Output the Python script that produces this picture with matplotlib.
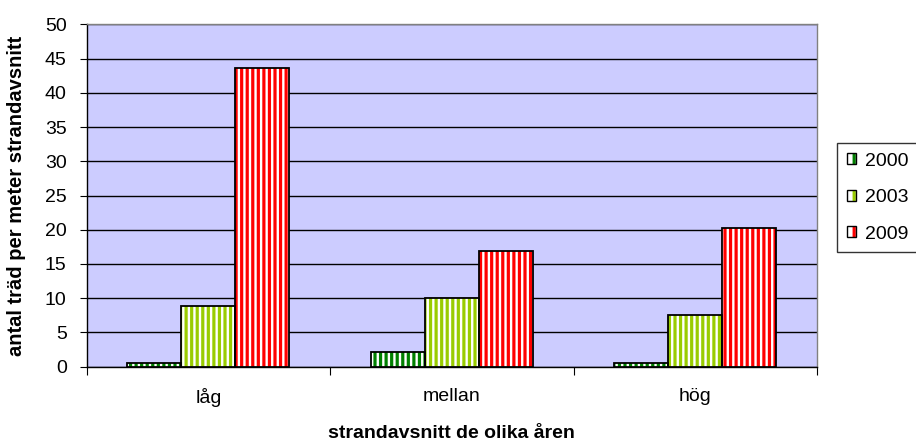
import matplotlib
matplotlib.use("Agg")
import matplotlib.pyplot as plt
from matplotlib.patches import Patch
import numpy as np

categories = ["låg", "mellan", "hög"]
years = ["2000", "2003", "2009"]
values_2000 = [0.5, 2.1, 0.5]
values_2003 = [8.9, 10.0, 7.6]
values_2009 = [43.6, 16.9, 20.3]
series = [values_2000, values_2003, values_2009]
colors = ["#008000", "#99CC00", "#FF0000"]

plt.rcParams['font.family'] = ['Liberation Sans', 'DejaVu Sans']
plt.rcParams['hatch.linewidth'] = 2.3

fig = plt.figure(figsize=(9.16, 4.47), dpi=100)
ax = fig.add_axes([86.7/916, 1-366.7/447, (817-86.7)/916, (366.7-24.3)/447])
ax.set_facecolor("#CCCCFF")

x = np.arange(len(categories))
w = 0.222
handles = []
for i, (vals, c) in enumerate(zip(series, colors)):
    pos = x + (i - 1) * w
    ax.bar(pos, vals, w, facecolor="white", edgecolor=c, hatch="|||", linewidth=0, zorder=3)
    ax.bar(pos, vals, w, fill=False, edgecolor="black", linewidth=1.3, zorder=4)
    handles.append((Patch(facecolor="white", edgecolor=c, hatch="||", linewidth=0),
                    Patch(fill=False, edgecolor="black", linewidth=1.0)))

ax.set_xlim(-0.5, 2.5)
ax.set_ylim(0, 50)
ax.set_yticks(np.arange(0, 51, 5))
ax.yaxis.grid(True, color="black", linewidth=1.0, zorder=1)
ax.set_axisbelow(True)

ax.set_xticks([-0.5, 0.5, 1.5, 2.5])
ax.set_xticklabels([])
ax.set_xticks(x, minor=True)
ax.set_xticklabels(categories, minor=True)
ax.tick_params(axis="x", which="minor", length=0, pad=15, labelsize=14)
ax.tick_params(axis="x", which="major", length=5.4, color="black")
ax.tick_params(axis="y", length=5.4, labelsize=14, pad=9, color="black")

for s in ["left", "bottom"]:
    ax.spines[s].set_color("black")
    ax.spines[s].set_linewidth(1.0)
for s in ["top", "right"]:
    ax.spines[s].set_color("#808080")
    ax.spines[s].set_linewidth(1.0)

ax.set_xlabel("strandavsnitt de olika åren", fontsize=14, fontweight="bold")
ax.xaxis.set_label_coords(0.5, (366.7 - 425) / 342.4)
ax.set_ylabel("antal träd per meter strandavsnitt", fontsize=14.5, fontweight="bold")
ax.yaxis.set_label_coords((26 - 86.7) / 730.3, 0.5)

leg = fig.legend(handles, years, loc="upper left", bbox_to_anchor=(837/916, 1-143/447),
                 fontsize=14, frameon=True, fancybox=False, shadow=False,
                 handlelength=0.5, handleheight=0.5, handletextpad=0.45,
                 labelspacing=1.0, borderpad=0.5, borderaxespad=0)
leg.get_frame().set_edgecolor("black")
leg.get_frame().set_linewidth(1.0)

fig.savefig("out.png", dpi=100)
